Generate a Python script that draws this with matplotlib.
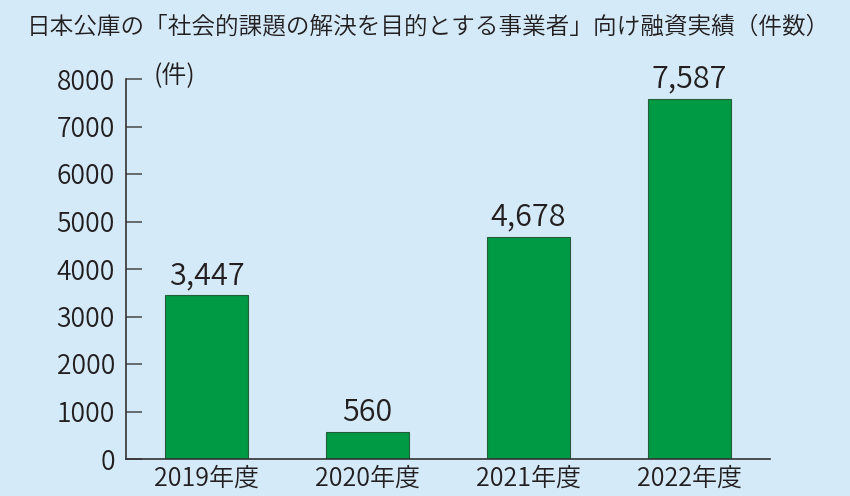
import matplotlib
matplotlib.use("Agg")
import matplotlib.pyplot as plt

# Data
categories = ["2019年度", "2020年度", "2021年度", "2022年度"]
values = [3447, 560, 4678, 7587]
value_labels = ["3,447", "560", "4,678", "7,587"]
yticks = [0, 1000, 2000, 3000, 4000, 5000, 6000, 7000, 8000]
title = "日本公庫の「社会的課題の解決を目的とする事業者」向け融資実績（件数）"
unit = "(件)"

BG = "#d4eaf8"
GREEN = "#009944"
TXT = "#231f20"
FONT = ["Noto Sans CJK JP", "DejaVu Sans"]
plt.rcParams["font.family"] = FONT
plt.rcParams["font.weight"] = 350

W, H = 850, 496
fig = plt.figure(figsize=(W / 100, H / 100), dpi=100, facecolor=BG)
ax = fig.add_axes([126 / W, (H - 459) / H, (770 - 126) / W, (459 - 79) / H])
ax.set_facecolor(BG)

x = list(range(len(categories)))
ax.bar(x, values, width=0.52, color=GREEN, edgecolor="#23603a", linewidth=0.8, zorder=2)

ax.set_xlim(-0.5, 3.5)
ax.set_ylim(0, 8000)
ax.set_yticks(yticks)
ax.set_yticklabels([str(v) for v in yticks], fontsize=19, color=TXT)
ax.set_xticks(x)
ax.set_xticklabels(categories, fontsize=18, color=TXT)

ax.tick_params(axis="y", direction="in", length=11.5, width=1.2, color="#555555", pad=8)
ax.tick_params(axis="x", length=0, pad=5)

for s in ["top", "right"]:
    ax.spines[s].set_visible(False)
for s in ["left", "bottom"]:
    ax.spines[s].set_color("#333333")
    ax.spines[s].set_linewidth(1.2)

for xi, v, lab in zip(x, values, value_labels):
    ax.annotate(lab, (xi, v), xytext=(0, 8), textcoords="offset points",
                ha="center", va="baseline", fontsize=22, color=TXT)

fig.text(175 / W, 1 - 76 / H, unit, ha="center", va="center", fontsize=18, color=TXT)
fig.text(428 / W, 1 - 27 / H, title, ha="center", va="center", fontsize=17, color=TXT)

fig.savefig("out.png", dpi=100, facecolor=BG)
